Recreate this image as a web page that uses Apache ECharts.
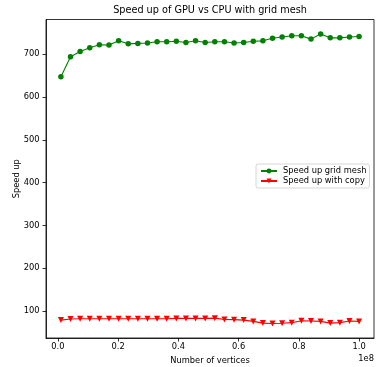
<!DOCTYPE html>
<html>
<head>
<meta charset="utf-8">
<script src="https://cdn.jsdelivr.net/npm/echarts@6/dist/echarts.min.js"></script>
<style>
  html, body { margin: 0; padding: 0; background: #fff; }
  #chart { width: 376px; height: 367px; }
</style>
</head>
<body>
<div id="chart"></div>
<script>
// Problem sizes (number of vertices) for each benchmark run
var vertices = [1000000, 4193548, 7387097, 10580645, 13774194, 16967742, 20161290, 23354839,
  26548387, 29741935, 32935484, 36129032, 39322581, 42516129, 45709677, 48903226,
  52096774, 55290323, 58483871, 61677419, 64870968, 68064516, 71258065, 74451613,
  77645161, 80838710, 84032258, 87225806, 90419355, 93612903, 96806452, 100000000];

// GPU speed-up, grid mesh kernel
var speedupGridMesh = [647, 694, 706, 715, 722, 721, 731, 724, 725, 726, 729, 729, 730, 727, 731, 727,
  729, 729, 726, 727, 730, 731, 737, 740, 743, 743, 735, 747, 738, 738, 740, 741];

// GPU speed-up including host/device copies
var speedupWithCopy = [79, 81.5, 82, 82, 82, 82, 82, 82, 82, 82, 82, 82, 83, 83, 83, 83,
  83.5, 80.5, 80, 79, 76, 72, 71, 71.5, 73, 77.5, 77, 76, 72, 73, 77, 76];

// Tick positions
var xTicks = [0, 20000000, 40000000, 60000000, 80000000, 100000000];
var yTicks = [100, 200, 300, 400, 500, 600, 700];

function pairs(xs, ys) {
  return xs.map(function (x, i) { return [x, ys[i]]; });
}

// 5% padding around the data range on both axes
function paddedRange(values) {
  var lo = Math.min.apply(null, values), hi = Math.max.apply(null, values);
  var pad = (hi - lo) * 0.05;
  return [lo - pad, hi + pad];
}
var xRange = paddedRange(vertices);
var yRange = paddedRange(speedupGridMesh.concat(speedupWithCopy));

var FONT = 'DejaVu Sans';
var INK = '#000';
var SMALL = 8.3;

var chart = echarts.init(document.getElementById('chart'), null, { renderer: 'canvas' });
chart.setOption({
  animation: false,
  backgroundColor: '#fff',
  textStyle: { fontFamily: FONT },
  grid: {
    left: 46, right: 2, top: 19.5, bottom: 29,
    outerBoundsMode: 'none',
    containLabel: false,
    show: true, borderColor: INK, borderWidth: 0.8, backgroundColor: 'transparent'
  },
  graphic: [
    {
      type: 'text', x: 210, y: 10.5,
      style: { text: 'Speed up of GPU vs CPU with grid mesh', font: '9.7px "DejaVu Sans"',
        fill: INK, textAlign: 'center', textVerticalAlign: 'middle' }
    },
    {
      type: 'text', x: 374, y: 359,
      style: { text: '1e8', font: SMALL + 'px "DejaVu Sans"', fill: INK,
        textAlign: 'right', textVerticalAlign: 'middle' }
    }
  ],
  legend: {
    orient: 'vertical',
    left: 256, top: 164,
    padding: [3, 3, 3, 4],
    itemGap: 2,
    itemWidth: 16,
    itemHeight: 6,
    borderColor: '#ccc', borderWidth: 0.8, borderRadius: 2,
    backgroundColor: 'rgba(255,255,255,0.8)',
    textStyle: { fontFamily: FONT, fontSize: SMALL, color: INK, padding: [0, 0, 0, 1] },
    data: ['Speed up grid mesh', 'Speed up with copy']
  },
  xAxis: {
    type: 'value',
    min: xRange[0], max: xRange[1],
    name: 'Number of vertices', nameLocation: 'middle', nameGap: 19,
    nameMoveOverlap: false,
    nameTextStyle: { fontFamily: FONT, fontSize: SMALL, color: INK },
    axisLine: { show: true, onZero: false, lineStyle: { color: INK, width: 0.8 } },
    axisTick: { show: true, length: 3.5, customValues: xTicks, lineStyle: { color: INK, width: 0.8 } },
    axisLabel: {
      customValues: xTicks, margin: 5,
      fontFamily: FONT, fontSize: SMALL, color: INK,
      formatter: function (v) { return (v / 1e8).toFixed(1); }
    },
    splitLine: { show: false }
  },
  yAxis: {
    type: 'value',
    min: yRange[0], max: yRange[1],
    name: 'Speed up', nameLocation: 'middle', nameGap: 25.5,
    nameMoveOverlap: false,
    nameTextStyle: { fontFamily: FONT, fontSize: SMALL, color: INK },
    axisLine: { show: true, onZero: false, lineStyle: { color: INK, width: 0.8 } },
    axisTick: { show: true, length: 3.5, customValues: yTicks, lineStyle: { color: INK, width: 0.8 } },
    axisLabel: {
      customValues: yTicks, margin: 6.5,
      fontFamily: FONT, fontSize: SMALL, color: INK
    },
    splitLine: { show: false }
  },
  series: [
    {
      name: 'Speed up grid mesh',
      type: 'line',
      data: pairs(vertices, speedupGridMesh),
      symbol: 'circle', symbolSize: 5.5,
      lineStyle: { color: '#008000', width: 1.1 },
      itemStyle: { color: '#008000' },
      emphasis: { disabled: true }
    },
    {
      name: 'Speed up with copy',
      type: 'line',
      data: pairs(vertices, speedupWithCopy),
      symbol: 'triangle', symbolRotate: 180, symbolSize: 6,
      lineStyle: { color: '#ff0000', width: 1.1 },
      itemStyle: { color: '#ff0000' },
      emphasis: { disabled: true }
    }
  ]
});
</script>
</body>
</html>
